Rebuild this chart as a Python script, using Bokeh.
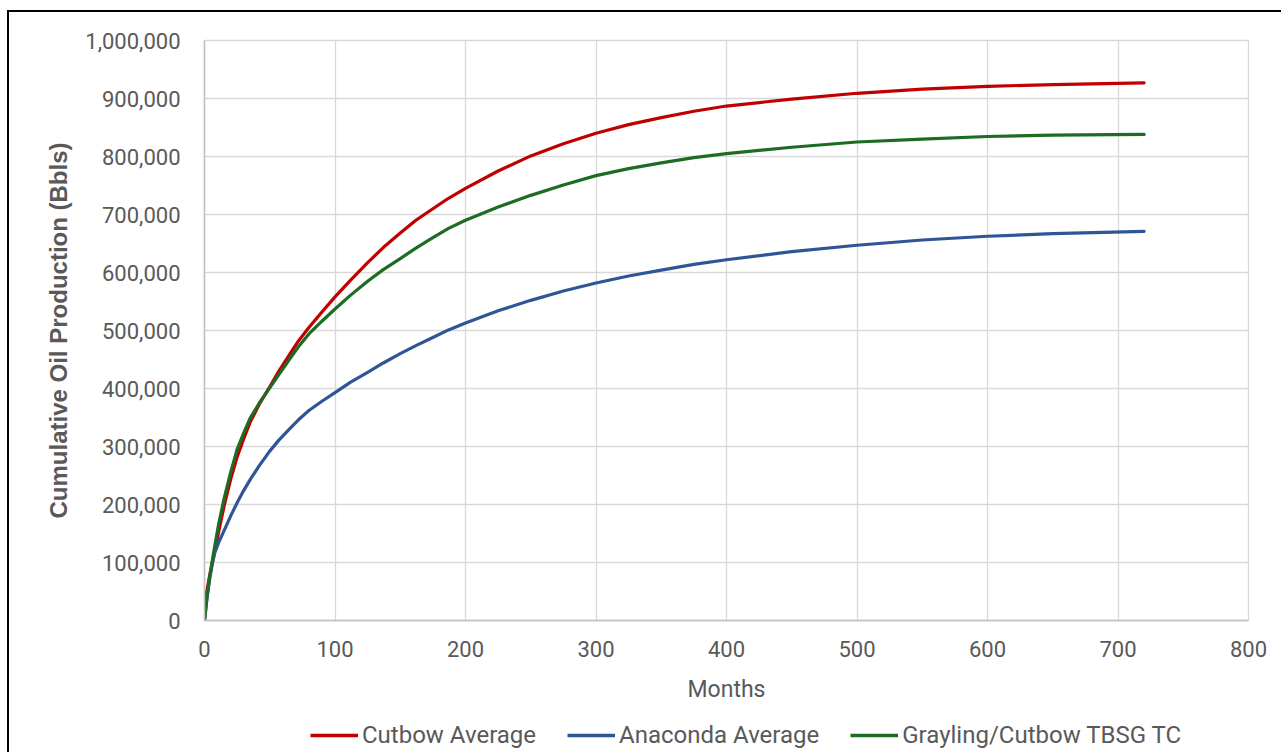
from bokeh.plotting import figure
from bokeh.layouts import column
from bokeh.models import Range1d, FixedTicker, NumeralTickFormatter, Legend, LegendItem
from bokeh.embed import file_html
from bokeh.resources import INLINE

# ---- data ----
months = [0, 2, 4, 6, 8, 11, 15, 20, 25, 30, 35, 42, 50, 57, 65, 72, 80, 90, 100,
          112, 125, 137, 150, 162, 175, 187, 200,
          225, 250, 275, 300, 325, 350, 375, 400, 450, 500, 550, 600, 650, 720]

cutbow_avg = [25000, 53000, 78000, 100000, 121000, 155000, 197000, 243000, 282000, 313000,
              342000, 373000, 403000, 430000, 458000, 482000, 505000, 532000, 558000,
              587000, 617000, 643000, 668000, 690000, 710000, 728000, 745000,
              775000, 801000, 822000, 840000, 855000, 867000, 878000, 887000, 899000,
              909000, 916000, 921000, 924000, 927000]

anaconda_avg = [0, 40000, 72000, 98000, 118000, 135000, 155000, 180000, 203000, 224000,
                243000, 267000, 292000, 311000, 330000, 346000, 362000, 378000, 393000,
                411000, 428000, 444000, 460000, 474000, 488000, 501000, 513000,
                534000, 552000, 568000, 582000, 594000, 604000, 614000, 622000, 636000,
                647000, 656000, 662500, 667000, 671000]

grayling_tc = [0, 42000, 76000, 104000, 130000, 168000, 210000, 255000, 295000, 323000,
               349000, 375000, 401000, 424000, 450000, 472000, 494000, 516000, 537000,
               561000, 585000, 605000, 624000, 642000, 660000, 676000, 690000,
               713000, 733000, 751000, 767000, 779000, 789000, 798000, 805000, 816000,
               825000, 830000, 834500, 837000, 838000]

series_names = ["Cutbow Average", "Anaconda Average", "Grayling/Cutbow TBSG TC"]
x_ticks = [0, 100, 200, 300, 400, 500, 600, 700, 800]
y_ticks = [0, 100000, 200000, 300000, 400000, 500000, 600000, 700000, 800000, 900000, 1000000]

# ---- styles ----
colors = ["#C00000", "#2F5597", "#1E6B24"]
TICK_COLOR = "#595959"
GRID_COLOR = "#d9d9d9"
W = 1272

p = figure(width=W, height=710, output_backend="svg", toolbar_location=None,
           x_range=Range1d(0, 800), y_range=Range1d(0, 1000000),
           min_border_left=195, min_border_right=33, min_border_top=28, min_border_bottom=102)

p.background_fill_color = "white"
p.border_fill_color = "white"
p.outline_line_color = GRID_COLOR
p.outline_line_width = 1.3

p.xaxis.ticker = FixedTicker(ticks=x_ticks)
p.yaxis.ticker = FixedTicker(ticks=y_ticks)
p.yaxis.formatter = NumeralTickFormatter(format="0,0")

for ax in (p.xaxis, p.yaxis):
    ax.major_tick_line_color = None
    ax.minor_tick_line_color = None
    ax.axis_line_color = "#bfbfbf"
    ax.axis_line_width = 1.5
    ax.major_label_text_font = "Roboto"
    ax.major_label_text_font_size = "22px"
    ax.major_label_text_color = TICK_COLOR
    ax.major_tick_out = 0
    ax.major_tick_in = 0

p.yaxis.major_label_standoff = 24
p.xaxis.major_label_standoff = 20

p.xaxis.axis_label = "Months"
p.xaxis.axis_label_text_font = "Roboto"
p.xaxis.axis_label_text_font_size = "23px"
p.xaxis.axis_label_text_font_style = "normal"
p.xaxis.axis_label_text_color = TICK_COLOR
p.xaxis.axis_label_standoff = 16

p.yaxis.axis_label = "Cumulative Oil Production (Bbls)"
p.yaxis.axis_label_text_font = "Liberation Sans"
p.yaxis.axis_label_text_font_size = "24px"
p.yaxis.axis_label_text_font_style = "bold"
p.yaxis.axis_label_text_color = TICK_COLOR
p.yaxis.axis_label_standoff = 10

for g in (p.xgrid, p.ygrid):
    g.grid_line_color = GRID_COLOR
    g.grid_line_width = 1.3

for ys, c in zip([cutbow_avg, anaconda_avg, grayling_tc], colors):
    p.line(months, ys, line_color=c, line_width=3.2, line_join="round", line_cap="round")

# ---- legend strip below the chart ----
leg = figure(width=W, height=30, output_backend="svg", toolbar_location=None,
             x_range=Range1d(0, 1), y_range=Range1d(0, 1),
             x_axis_location=None, y_axis_location=None,
             min_border_left=0, min_border_right=0, min_border_top=0, min_border_bottom=0)
leg.grid.visible = False
leg.outline_line_color = None
leg.background_fill_color = "white"
leg.border_fill_color = "white"

items = []
for n, c in zip(series_names, colors):
    # proxy renderers placed outside the visible range, used only for the legend glyph
    r = leg.line(x=[5, 6], y=[5, 6], line_color=c, line_width=3.5)
    items.append(LegendItem(label=n, renderers=[r]))

legend = Legend(
    items=items,
    orientation="horizontal",
    location=(106, 3),
    glyph_width=48, glyph_height=24, label_height=24,
    label_standoff=4, spacing=31, padding=0, margin=0,
    label_text_font="Roboto", label_text_font_size="24px", label_text_color=TICK_COLOR,
    border_line_color=None, background_fill_alpha=0,
)
leg.add_layout(legend, "center")

layout = column(p, leg, spacing=0)
layout.styles = {"margin-left": "7px", "margin-top": "10px",
                 "border-left": "2px solid black", "border-top": "2px solid black"}

open("out.html", "w").write(file_html(layout, INLINE))
